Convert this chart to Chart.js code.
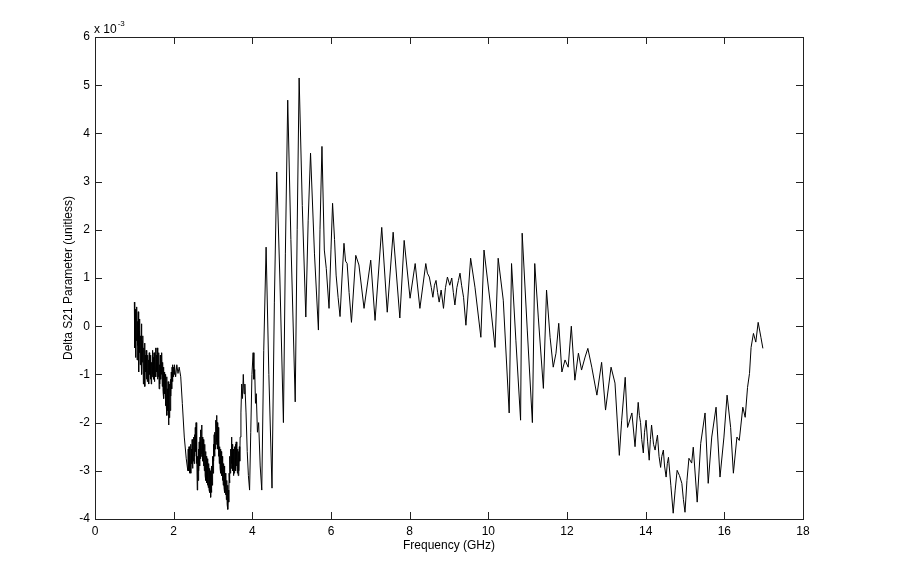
<!DOCTYPE html>
<html lang="en">
<head>
    <meta charset="UTF-8">
    <title>Delta S21 vs Frequency</title>
    <style>
        body {
            margin: 0;
            background: #fff;
        }
        #chart {
            display: block;
        }
    </style>
</head>
<body>
    <canvas id="chart" width="913" height="588"></canvas>

    <script src="https://cdn.jsdelivr.net/npm/chart.js"></script>
    <script>
        // frequency of each sample (GHz)
        const freqGHz = [
            1.00,1.01,1.02,1.03,1.04,1.05,1.06,1.07,1.08,1.09,1.10,1.11,1.12,1.13,1.14,1.15,1.16,1.17,1.18,1.19,1.20,1.21,1.22,1.23,1.24,1.25,1.26,1.27,1.28,1.29,1.30,
            1.31,1.32,1.33,1.34,1.35,1.36,1.37,1.38,1.39,1.40,
            1.41,1.42,1.43,1.44,1.45,1.46,1.47,1.48,1.49,1.50,
            1.51,1.52,1.53,1.54,1.55,1.56,1.57,1.58,1.59,1.60,
            1.61,1.62,1.63,1.64,1.65,1.66,1.67,1.68,1.69,1.70,
            1.71,1.72,1.73,1.74,1.75,1.76,1.77,1.78,1.79,1.80,
            1.81,1.82,1.83,1.84,1.85,1.86,1.87,1.88,1.89,1.90,
            1.91,1.92,1.93,1.94,1.95,1.96,1.97,1.98,1.99,2.00,
            2.01,2.02,2.05,2.08,2.11,2.14,2.18,2.22,2.27,2.32,2.36,
            2.37,2.38,2.39,2.40,2.41,2.42,2.43,2.44,2.45,2.46,
            2.47,2.48,2.49,2.50,2.51,2.52,2.53,2.54,2.55,2.56,
            2.57,2.58,2.59,2.60,2.61,2.62,2.63,2.64,2.65,2.66,
            2.67,2.68,2.69,2.70,2.71,2.72,2.73,2.74,2.75,2.76,
            2.77,2.78,2.79,2.80,2.81,2.82,2.83,2.84,2.85,2.86,
            2.87,2.88,2.89,2.90,2.91,2.92,2.93,2.94,2.95,2.96,
            2.97,2.98,2.99,3.00,3.01,3.02,3.03,3.04,3.05,3.06,
            3.07,3.08,3.09,3.10,3.11,3.12,3.13,3.14,3.15,3.16,
            3.17,3.18,3.19,3.20,3.21,3.22,3.23,3.24,3.25,3.26,
            3.27,3.28,3.29,3.30,3.31,3.32,3.33,3.34,3.35,3.36,
            3.37,3.38,3.39,3.40,3.41,3.42,3.43,3.44,3.45,3.46,
            3.47,3.48,3.49,3.50,3.51,3.52,3.53,3.54,3.55,3.56,
            3.57,3.58,3.59,3.60,3.61,3.62,3.63,3.64,3.65,3.66,
            3.67,3.68,3.69,
            3.71,3.73,3.75,3.77,3.79,3.81,3.84,3.87,3.90,3.93,3.96,3.99,4.02,4.04,4.06,4.08,4.10,4.13,4.16,4.20,4.24,4.29,4.35,4.42,4.50,
            4.56,4.62,4.70,4.79,4.84,4.90,4.98,5.09,5.14,5.19,5.27,5.36,5.42,5.48,5.58,5.68,5.72,5.77,5.83,5.88,5.95,6.00,6.04,6.09,6.13,6.18,6.23,6.28,6.33,6.37,6.41,6.46,6.52,
            6.63,6.71,6.84,7.01,7.12,7.29,7.43,7.58,7.75,7.86,8.01,8.14,8.26,
            8.41,8.45,8.50,8.55,8.59,8.63,8.67,8.71,8.75,8.80,8.86,8.91,8.96,9.02,9.07,9.11,9.15,9.20,9.24,9.28,9.32,9.37,9.43,
            9.55,9.66,9.81,9.89,10.04,10.17,10.25,10.38,10.53,10.59,10.70,10.82,10.86,10.99,11.12,11.18,11.27,11.40,11.48,11.57,
            11.65,11.72,11.79,11.87,11.95,12.03,12.11,12.20,12.29,12.37,12.46,12.53,12.63,12.76,12.88,12.98,13.12,13.22,13.33,13.39,13.48,13.54,13.65,13.73,13.81,
            13.84,13.87,13.90,13.94,13.97,14.01,14.05,14.09,14.12,14.15,14.20,14.24,14.27,14.30,14.34,14.38,14.41,14.45,14.48,14.52,
            14.55,14.58,14.64,14.70,14.75,14.80,14.86,14.92,14.96,15.00,15.05,15.10,15.17,15.21,15.31,15.40,
            15.51,15.59,15.68,15.79,15.89,15.99,16.07,16.16,16.23,16.32,16.38,16.47,16.53,16.59,16.64,16.68,16.74,16.80,16.86,16.93,16.98
        ];

        // Delta S21, in units of 1e-3
        const deltaS21 = [
            0.50,-0.45,0.35,-0.65,0.20,-0.30,0.40,-0.70,0.10,-0.40,0.30,-0.95,-0.10,-0.55,0.15,-0.80,-0.20,-0.60,0.05,-1.00,-0.30,-0.75,-0.20,-1.20,-0.45,-0.90,-0.35,-1.25,-0.60,-0.95,-0.50,
            -1.10,-0.55,-1.15,-0.60,-1.05,-0.70,-1.20,-0.55,-1.00,-0.65,
            -1.10,-0.60,-1.20,-0.75,-1.05,-0.50,-1.00,-0.65,-1.10,-0.55,
            -1.15,-0.70,-1.00,-0.45,-1.05,-0.60,-0.95,-0.45,-1.10,-0.65,
            -1.05,-0.55,-1.30,-0.80,-1.20,-0.60,-1.10,-0.70,-1.00,-0.55,
            -1.25,-0.75,-1.35,-0.85,-1.50,-0.95,-1.40,-1.00,-1.65,-1.10,
            -1.60,-1.05,-1.85,-1.30,-1.75,-1.15,-2.05,-1.40,-1.90,-1.20,
            -1.75,-1.10,-1.45,-0.95,-1.30,-0.85,-1.15,-0.80,-1.05,-0.85,
            -1.00,-0.80,-1.05,-0.80,-0.98,-0.85,-1.05,-1.60,-2.30,-2.75,-3.00,
            -2.55,-3.00,-2.50,-3.05,-2.60,-2.95,-2.45,-3.05,-2.55,-2.85,
            -2.35,-2.95,-2.40,-2.80,-2.30,-2.85,-2.25,-2.70,-2.10,-2.60,
            -2.00,-2.85,-2.50,-3.40,-2.70,-3.20,-2.55,-3.00,-2.40,-2.90,
            -2.30,-2.75,-2.15,-2.70,-2.05,-2.65,-2.30,-2.80,-2.35,-2.90,
            -2.50,-3.00,-2.45,-3.10,-2.60,-3.20,-2.70,-3.25,-2.75,-3.30,
            -2.80,-3.35,-2.85,-3.40,-2.95,-3.45,-3.00,-3.55,-3.05,-3.45,
            -2.90,-3.30,-2.70,-3.05,-2.45,-2.80,-2.25,-2.70,-2.20,-2.55,
            -1.95,-2.45,-1.85,-2.40,-2.00,-2.55,-2.10,-2.70,-2.35,-2.85,
            -2.50,-2.95,-2.55,-3.05,-2.60,-3.10,-2.70,-3.20,-2.80,-3.30,
            -2.85,-3.35,-2.90,-3.45,-3.05,-3.50,-3.10,-3.60,-3.20,-3.70,
            -3.30,-3.80,-3.40,-3.65,-3.05,-3.25,-2.70,-3.05,-2.55,-2.95,
            -2.30,-2.85,-2.45,-3.00,-2.55,-3.10,-2.60,-3.05,-2.50,-2.95,
            -2.45,-3.00,-2.40,-2.90,-2.50,-3.05,-2.55,-3.10,-2.60,-3.00,
            -2.50,-2.80,-2.30,
            -1.80,-1.20,-1.50,-1.00,-1.40,-1.20,-1.80,-2.60,-3.10,-3.40,-2.20,-1.00,-0.55,-1.10,-0.90,-1.60,-1.40,-2.20,-2.00,-2.90,-3.40,-0.50,1.64,-1.00,-3.36,
            0.50,3.20,1.00,-2.00,1.50,4.69,1.80,-1.57,2.00,5.15,2.50,0.19,2.20,3.59,1.50,-0.08,2.00,3.73,1.58,1.20,0.37,1.60,2.55,1.80,1.06,0.60,0.20,1.00,1.72,1.35,1.30,0.70,0.08,
            1.47,1.27,0.37,1.37,0.12,2.05,0.29,1.95,0.17,1.78,0.58,1.30,0.37,
            1.30,1.10,1.02,0.80,0.60,0.85,0.95,0.70,0.50,0.75,0.37,0.80,1.02,0.85,1.00,0.70,0.44,0.80,0.95,1.10,0.85,0.60,0.02,
            1.41,0.81,-0.23,1.58,0.54,-0.44,1.41,0.54,-1.80,1.30,-0.29,-1.95,1.93,-0.08,-2.00,1.30,0.19,-1.29,0.75,-0.23,
            -0.85,-0.56,0.06,-0.95,-0.70,-0.85,0.00,-1.12,-0.56,-0.91,-0.64,-0.46,-0.85,-1.43,-0.75,-1.74,-0.85,-1.18,-2.68,-1.95,-1.06,-2.10,-1.80,-2.50,-1.58,
            -1.85,-2.00,-2.35,-2.63,-2.20,-1.95,-2.40,-2.78,-2.35,-2.05,-2.45,-2.57,-2.40,-2.26,-2.70,-2.93,-2.70,-2.57,-2.90,-3.13,
            -2.85,-2.72,-3.30,-3.88,-3.40,-2.99,-3.10,-3.26,-3.60,-3.86,-3.20,-2.74,-2.84,-2.51,-3.65,-2.43,
            -1.80,-3.26,-2.30,-1.68,-3.13,-2.30,-1.43,-2.10,-3.05,-2.30,-2.37,-1.68,-1.89,-1.27,-0.98,-0.44,-0.15,-0.33,0.08,-0.23,-0.46
        ];

        // axis range / tick spacing and the exponent shown above the y axis
        const xRange = [0, 18];
        const yRange = [-4, 6];
        const xStep = 2;
        const yStep = 1;
        const yExponent = ['x 10', '-3'];

        if (freqGHz.length !== deltaS21.length) {
            console.error('length mismatch', freqGHz.length, deltaS21.length);
        }

        const FONT = '"Liberation Sans", Arial, Helvetica, sans-serif';

        // draws the boxed frame with inward ticks on all four sides, plus the exponent
        const matlabFrame = {
            id: 'matlabFrame',
            afterDraw(chart) {
                const ctx = chart.ctx;
                const a = chart.chartArea;
                const xs = chart.scales.x;
                const ys = chart.scales.y;
                const len = 7;

                ctx.save();
                ctx.strokeStyle = '#222';
                ctx.lineWidth = 1;
                ctx.strokeRect(Math.round(a.left) + 0.5, Math.round(a.top) + 0.5,
                    Math.round(a.right - a.left), Math.round(a.bottom - a.top));

                ctx.beginPath();
                xs.ticks.forEach(t => {
                    const px = Math.round(xs.getPixelForValue(t.value)) + 0.5;
                    ctx.moveTo(px, a.bottom);
                    ctx.lineTo(px, a.bottom - len);
                    ctx.moveTo(px, a.top);
                    ctx.lineTo(px, a.top + len);
                });
                ys.ticks.forEach(t => {
                    const py = Math.round(ys.getPixelForValue(t.value)) + 0.5;
                    ctx.moveTo(a.left, py);
                    ctx.lineTo(a.left + len, py);
                    ctx.moveTo(a.right, py);
                    ctx.lineTo(a.right - len, py);
                });
                ctx.stroke();

                ctx.fillStyle = '#000';
                ctx.textBaseline = 'alphabetic';
                ctx.textAlign = 'left';
                ctx.font = '12px ' + FONT;
                ctx.fillText(yExponent[0], a.left - 1, a.top - 4);
                const w = ctx.measureText(yExponent[0]).width;
                ctx.font = '8px ' + FONT;
                ctx.fillText(yExponent[1], a.left - 1 + w + 1, a.top - 11);
                ctx.restore();
            }
        };

        const points = freqGHz.map((f, i) => ({ x: f, y: deltaS21[i] }));

        const ctx = document.getElementById('chart').getContext('2d');
        new Chart(ctx, {
            type: 'line',
            data: {
                datasets: [{
                    data: points,
                    borderColor: '#000',
                    borderWidth: 1,
                    pointRadius: 0,
                    tension: 0,
                    fill: false
                }]
            },
            options: {
                responsive: false,
                animation: false,
                devicePixelRatio: 1,
                layout: {
                    padding: { left: 0, top: 37, right: 110, bottom: 0 }
                },
                plugins: {
                    legend: { display: false },
                    tooltip: { enabled: false }
                },
                scales: {
                    x: {
                        type: 'linear',
                        min: xRange[0],
                        max: xRange[1],
                        grid: { display: false, drawTicks: false },
                        border: { display: false },
                        ticks: {
                            stepSize: xStep,
                            padding: 5,
                            color: '#000',
                            font: { family: FONT, size: 12 }
                        },
                        title: {
                            display: true,
                            text: 'Frequency (GHz)',
                            color: '#000',
                            font: { family: FONT, size: 12 },
                            padding: { top: 0, bottom: 35 }
                        },
                        afterFit: s => { s.height = 69; }
                    },
                    y: {
                        min: yRange[0],
                        max: yRange[1],
                        grid: { display: false, drawTicks: false },
                        border: { display: false },
                        ticks: {
                            stepSize: yStep,
                            padding: 5,
                            color: '#000',
                            font: { family: FONT, size: 12 }
                        },
                        title: {
                            display: true,
                            text: 'Delta S21 Parameter (unitless)',
                            color: '#000',
                            font: { family: FONT, size: 12 },
                            padding: { top: 61, bottom: 0 }
                        },
                        afterFit: s => { s.width = 95; }
                    }
                }
            },
            plugins: [matlabFrame]
        });
    </script>
</body>
</html>
